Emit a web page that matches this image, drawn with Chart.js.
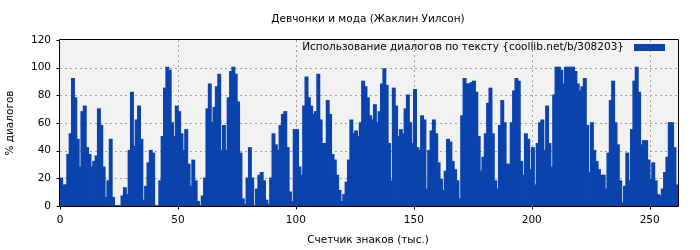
<!DOCTYPE html>
<html><head><meta charset="utf-8">
<script src="https://cdn.jsdelivr.net/npm/chart.js@4/dist/chart.umd.min.js"></script>
<style>html,body{margin:0;padding:0;background:#fff}canvas{display:block}</style>
</head><body>
<canvas id="c" width="700" height="250"></canvas>
<script>
const chartTitle = 'Девчонки и мода (Жаклин Уилсон)';
const xAxisTitle = 'Счетчик знаков (тыс.)';
const yAxisTitle = '% диалогов';
const seriesLabel = 'Использование диалогов по тексту {coollib.net/b/308203}';
const xTicks = [0, 50, 100, 150, 200, 250];
const yTicks = [0, 20, 40, 60, 80, 100, 120];
const xStart = 0, xStep = 1;
// % dialogue per thousand characters
const part1 = [20,15,15,37,52,92,78,48,28,68,72,42,37,28,32,36,70,58,28,6,18,48,
               6,0,0,0,7,13,8,40,82,43,62,72,48,4,14,31,40,38,0,0,18,50];
const part2 = [85,100,98,60,50,72,68,52,40,55,30,14,33,18,3,0,7,20,70,88,60,71,
               86,95,40,58,40,78,97,100,95,75,38,5,1,20,42,20,0,12,22,24,18,4];
const part3 = [1,20,52,44,40,58,66,68,42,10,3,55,55,28,22,72,93,78,72,66,68,95,
               62,45,45,76,66,37,33,22,11,3,8,17,33,62,52,54,50,60,90,86,78,65];
const part4 = [62,73,60,68,88,99,87,45,18,85,72,50,55,52,70,80,60,45,84,42,40,65,
               62,12,40,54,62,52,31,19,11,25,48,46,32,26,18,5,65,92,88,88,89,90];
const part5 = [82,50,25,35,52,74,85,52,18,12,58,76,60,30,30,60,83,92,90,32,22,52,
               48,26,42,15,45,60,62,40,72,45,28,80,100,100,98,88,100,100,100,100,97,88];
const part6 = [83,86,92,58,24,60,40,32,26,22,22,12,38,76,90,60,44,18,2,14,
               38,18,55,90,100,82,44,47,47,33,19,31,18,8,7,12,24,35,60,60,42,15];
const values = [].concat(part1, part2, part3, part4, part5, part6);
const points = values.map((v, i) => ({x: xStart + xStep * i + xStep / 2, y: v}));

const FONT = 'DejaVu Sans';
const BLUE = '#0a43ab';

const deco = {
  id: 'deco',
  beforeDatasetsDraw(chart) {
    const {ctx, chartArea: a, scales: {x, y}} = chart;
    ctx.save();
    ctx.fillStyle = '#f2f2f2';
    ctx.fillRect(a.left, a.top, a.right - a.left, a.bottom - a.top);
    ctx.strokeStyle = '#a0a0a0';
    ctx.lineWidth = 1;
    ctx.setLineDash([2, 3]);
    ctx.beginPath();
    xTicks.forEach(t => { if (t > 0) { const px = Math.round(x.getPixelForValue(t)) + 0.5; ctx.moveTo(px, a.top); ctx.lineTo(px, a.bottom); } });
    yTicks.forEach(t => { if (t > 0 && t < 120) { const py = Math.round(y.getPixelForValue(t)) + 0.5; ctx.moveTo(a.left, py); ctx.lineTo(a.right, py); } });
    ctx.stroke();
    ctx.restore();
  },
  afterDatasetsDraw(chart) {
    const {ctx, chartArea: a, scales: {x, y}} = chart;
    ctx.save();
    ctx.strokeStyle = '#000';
    ctx.lineWidth = 1;
    ctx.setLineDash([]);
    const L = Math.round(a.left) - 0.5, R = Math.round(a.right) + 0.5, T = Math.round(a.top) - 0.5, B = Math.round(a.bottom) + 0.5;
    ctx.beginPath();
    ctx.moveTo(L, T); ctx.lineTo(R, T); ctx.lineTo(R, B); ctx.lineTo(L, B); ctx.closePath();
    xTicks.forEach(t => { const px = Math.round(x.getPixelForValue(t)) + 0.5; ctx.moveTo(px, B); ctx.lineTo(px, B + 3); });
    yTicks.forEach(t => { const py = Math.round(y.getPixelForValue(t)) + 0.5; ctx.moveTo(L, py); ctx.lineTo(L - 3, py); });
    ctx.stroke();
    ctx.fillStyle = '#000';
    ctx.font = '10.5px "' + FONT + '"';
    ctx.textBaseline = 'middle';
    ctx.textAlign = 'center';
    xTicks.forEach(t => ctx.fillText(String(t), x.getPixelForValue(t), 220));
    ctx.textAlign = 'right';
    yTicks.forEach(t => ctx.fillText(String(t), a.left - 9, y.getPixelForValue(t)));
    ctx.textAlign = 'center';
    ctx.fillText(chartTitle, 368, 19);
    ctx.fillText(xAxisTitle, 368, 240);
    ctx.save();
    ctx.translate(10, 123);
    ctx.rotate(-Math.PI / 2);
    ctx.fillText(yAxisTitle, 0, 0);
    ctx.restore();
    ctx.textAlign = 'right';
    ctx.fillText(chart.data.datasets[0].label, 624, 47);
    ctx.fillStyle = BLUE;
    ctx.fillRect(634, 44, 31, 7);
    ctx.restore();
  }
};

new Chart(document.getElementById('c'), {
  type: 'bar',
  data: {
    datasets: [{
      label: seriesLabel,
      data: points,
      backgroundColor: BLUE,
      borderWidth: 0,
      inflateAmount: 0.8,
      barPercentage: 1,
      categoryPercentage: 1
    }]
  },
  options: {
    responsive: false,
    animation: false,
    devicePixelRatio: 1,
    layout: {padding: {left: 0, top: 40, right: 22, bottom: 0}},
    plugins: {legend: {display: false}, title: {display: false}, tooltip: {enabled: false}},
    scales: {
      x: {
        type: 'linear', min: 0, max: 262, offset: false,
        grid: {display: false, offset: false}, border: {display: false},
        ticks: {display: false},
        afterFit(s) { s.height = 44; }
      },
      y: {
        min: 0, max: 120,
        grid: {display: false}, border: {display: false},
        ticks: {display: false, stepSize: 20},
        afterFit(s) { s.width = 60; }
      }
    }
  },
  plugins: [deco]
});
</script>
</body></html>
